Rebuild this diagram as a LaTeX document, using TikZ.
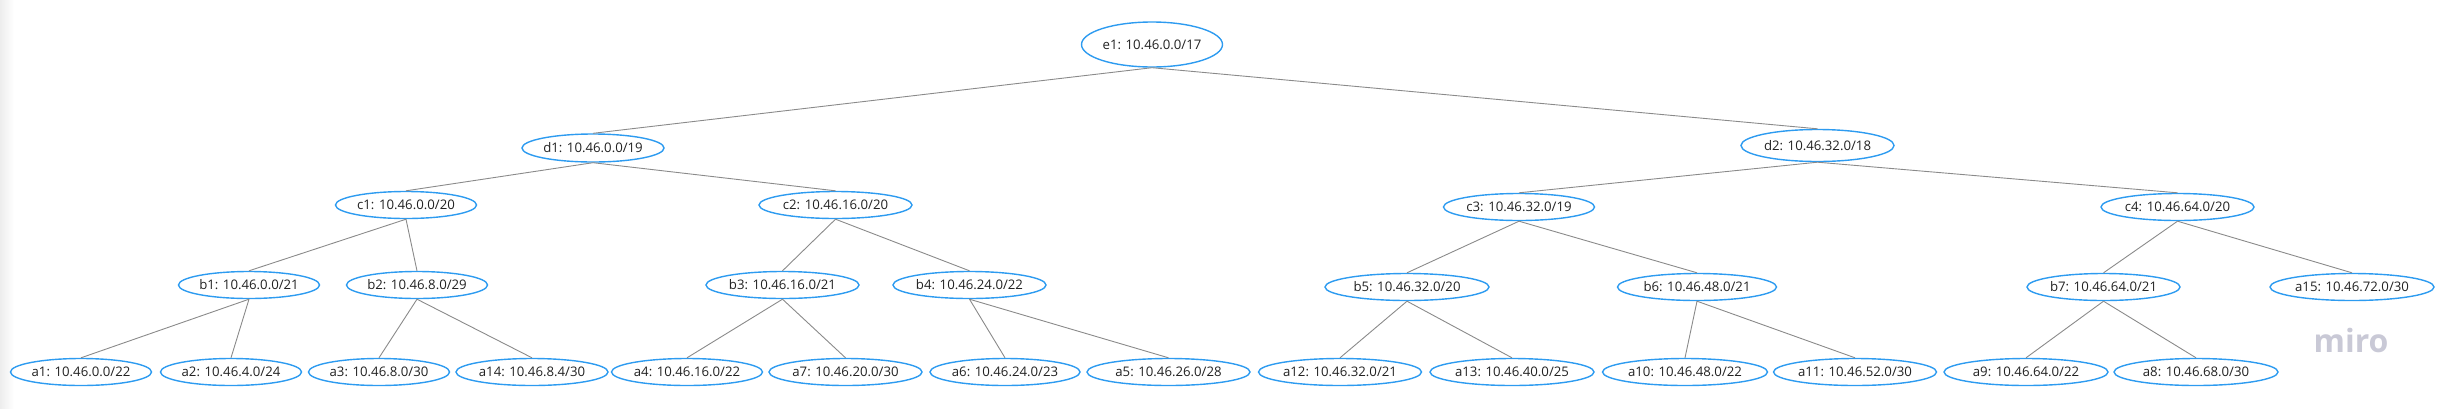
\documentclass[tikz,border=0pt]{standalone}
\usepackage{fontspec}
\setmainfont{Open Sans}
\usetikzlibrary{shapes.geometric}
\definecolor{nodeblue}{HTML}{2D9BF0}
\definecolor{edgegray}{HTML}{8A8A8A}
\definecolor{txtcol}{HTML}{222222}
\definecolor{mirogray}{HTML}{C9C9D6}
\newcommand\iptext[1]{\makebox[0pt]{#1}}
\begin{document}
\begin{tikzpicture}[x=1pt,y=-1pt,
  ipnode/.style={ellipse, draw=nodeblue, line width=1.4pt, inner sep=0pt,
    minimum height=27pt, text=txtcol, font=\fontsize{13.2}{15}\selectfont},
  link/.style={draw=edgegray, line width=0.9pt}]
\useasboundingbox (0,0) rectangle (2447,408);
\shade[left color=black!7, right color=white] (0,0) rectangle (14,408);

% level e
\node[ipnode, minimum width=141pt, minimum height=45pt] (e1) at (1152,44.5) {\iptext{e1: 10.46.0.0/17}};
% level d
\node[ipnode, minimum width=142pt, minimum height=28pt] (d1) at (593,148) {\iptext{d1: 10.46.0.0/19}};
\node[ipnode, minimum width=153pt, minimum height=32pt] (d2) at (1817.5,145.5) {\iptext{d2: 10.46.32.0/18}};
% level c
\node[ipnode, minimum width=141pt] (c1) at (406,205) {\iptext{c1: 10.46.0.0/20}};
\node[ipnode, minimum width=153pt] (c2) at (835.5,205) {\iptext{c2: 10.46.16.0/20}};
\node[ipnode, minimum width=151pt] (c3) at (1519,207) {\iptext{c3: 10.46.32.0/19}};
\node[ipnode, minimum width=153pt] (c4) at (2177.5,207) {\iptext{c4: 10.46.64.0/20}};
% level b
\node[ipnode, minimum width=141pt] (b1) at (249,285) {\iptext{b1: 10.46.0.0/21}};
\node[ipnode, minimum width=141pt] (b2) at (417,285) {\iptext{b2: 10.46.8.0/29}};
\node[ipnode, minimum width=153pt] (b3) at (782.5,285) {\iptext{b3: 10.46.16.0/21}};
\node[ipnode, minimum width=153pt] (b4) at (969.5,285) {\iptext{b4: 10.46.24.0/22}};
\node[ipnode, minimum width=164pt] (b5) at (1407,287) {\iptext{b5: 10.46.32.0/20}};
\node[ipnode, minimum width=159pt] (b6) at (1697,287) {\iptext{b6: 10.46.48.0/21}};
\node[ipnode, minimum width=153pt] (b7) at (2103.5,287) {\iptext{b7: 10.46.64.0/21}};
\node[ipnode, minimum width=164pt] (a15) at (2352,287) {\iptext{a15: 10.46.72.0/30}};
% level a
\node[ipnode, minimum width=141pt] (a1) at (81,372) {\iptext{a1: 10.46.0.0/22}};
\node[ipnode, minimum width=141pt] (a2) at (231,372) {\iptext{a2: 10.46.4.0/24}};
\node[ipnode, minimum width=141pt] (a3) at (379,372) {\iptext{a3: 10.46.8.0/30}};
\node[ipnode, minimum width=152pt] (a14) at (532,372) {\iptext{a14: 10.46.8.4/30}};
\node[ipnode, minimum width=151pt] (a4) at (687,372) {\iptext{a4: 10.46.16.0/22}};
\node[ipnode, minimum width=153pt] (a7) at (845.5,372) {\iptext{a7: 10.46.20.0/30}};
\node[ipnode, minimum width=150pt] (a6) at (1005,372) {\iptext{a6: 10.46.24.0/23}};
\node[ipnode, minimum width=163pt] (a5) at (1168.5,372) {\iptext{a5: 10.46.26.0/28}};
\node[ipnode, minimum width=163pt] (a12) at (1340,372) {\iptext{a12: 10.46.32.0/21}};
\node[ipnode, minimum width=164pt] (a13) at (1512,372) {\iptext{a13: 10.46.40.0/25}};
\node[ipnode, minimum width=165pt] (a10) at (1685,372) {\iptext{a10: 10.46.48.0/22}};
\node[ipnode, minimum width=163pt] (a11) at (1855,372) {\iptext{a11: 10.46.52.0/30}};
\node[ipnode, minimum width=164pt] (a9) at (2026,372) {\iptext{a9: 10.46.64.0/22}};
\node[ipnode, minimum width=164pt] (a8) at (2196,372) {\iptext{a8: 10.46.68.0/30}};

% connectors
\draw[link] (e1.south) -- (d1.north);
\draw[link] (e1.south) -- (d2.north);
\draw[link] (d1.south) -- (c1.north);
\draw[link] (d1.south) -- (c2.north);
\draw[link] (d2.south) -- (c3.north);
\draw[link] (d2.south) -- (c4.north);
\draw[link] (c1.south) -- (b1.north);
\draw[link] (c1.south) -- (b2.north);
\draw[link] (c2.south) -- (b3.north);
\draw[link] (c2.south) -- (b4.north);
\draw[link] (c3.south) -- (b5.north);
\draw[link] (c3.south) -- (b6.north);
\draw[link] (c4.south) -- (b7.north);
\draw[link] (c4.south) -- (a15.north);
\draw[link] (b1.south) -- (a1.north);
\draw[link] (b1.south) -- (a2.north);
\draw[link] (b2.south) -- (a3.north);
\draw[link] (b2.south) -- (a14.north);
\draw[link] (b3.south) -- (a4.north);
\draw[link] (b3.south) -- (a7.north);
\draw[link] (b4.south) -- (a6.north);
\draw[link] (b4.south) -- (a5.north);
\draw[link] (b5.south) -- (a12.north);
\draw[link] (b5.south) -- (a13.north);
\draw[link] (b6.south) -- (a10.north);
\draw[link] (b6.south) -- (a11.north);
\draw[link] (b7.south) -- (a9.north);
\draw[link] (b7.south) -- (a8.north);

% watermark
\node[text=mirogray, font=\fontsize{32}{32}\selectfont\bfseries, anchor=base, inner sep=0pt] (miro) at (2351,352) {miro};
\end{tikzpicture}
\end{document}
